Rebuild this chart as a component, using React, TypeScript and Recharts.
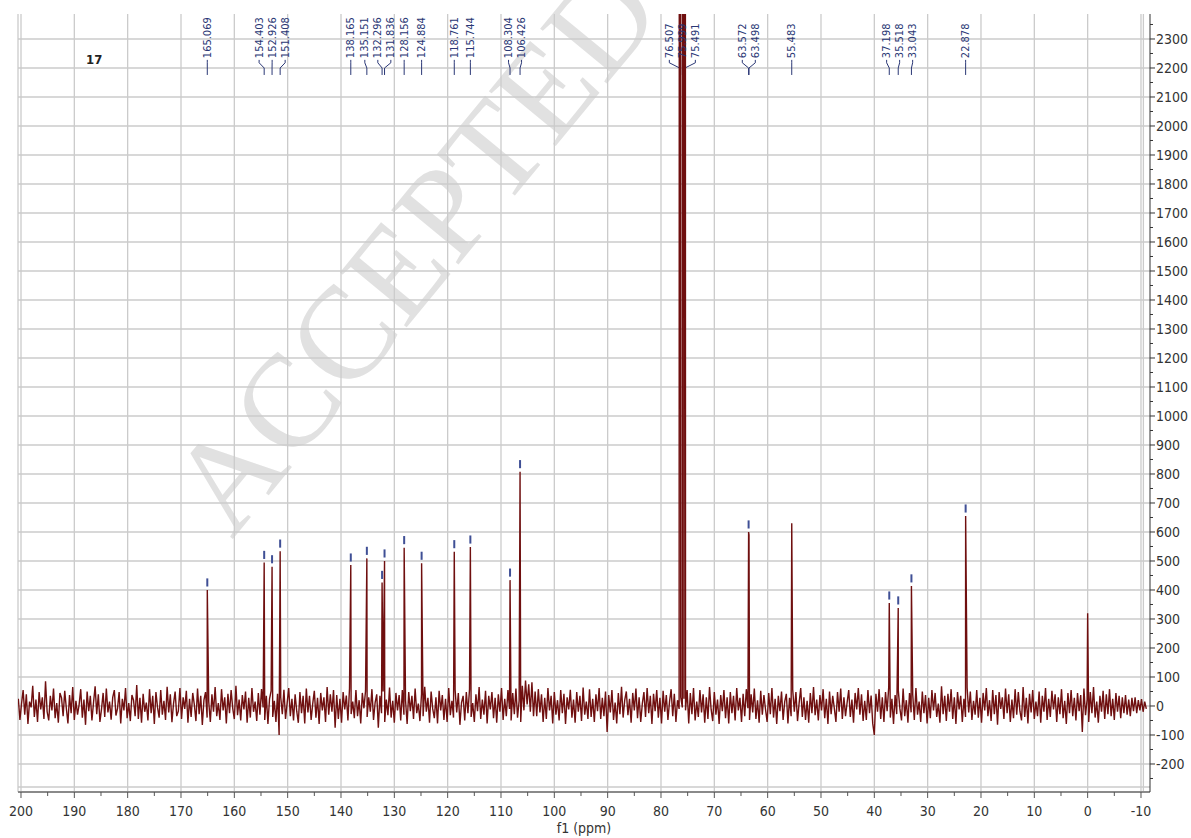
import React from "react"
import { ComposedChart, Line, Scatter, XAxis, YAxis, CartesianGrid, ReferenceLine } from "recharts"

// baseline noise, one value every 0.3 ppm starting at 200.5 ppm
const NOISE_START = 200.5
const NOISE_STEP = 0.3
const noise = [
  25, -48, 8, 55, -30, 40, -62, 15, -5, 70, -38, 22, -55, 48, -12, 30, -45, 85, -20, -50,
  35, -15, 60, -42, 10, -58, 45, 28, -35, 52, -8, -60, 38, -25, 65, -48, 18, -30, 5, 58,
  -40, 22, -65, 50, -18, 35, -50, 12, 68, -28, 40, -55, -10, 45, -38, 60, -22, 15, -47, 30,
  55, -33, -8, 48, -60, 25, -15, 62, -42, 10, -52, 38, 20, -35, 72, -45, 28, -58, 42, -20,
  12, -50, 58, -25, 35, -62, 48, -5, -40, 55, -30, 18, -48, 66, -22, 40, -56, 8, 50, -35,
  -18, 62, -45, 30, -10, 52, -58, 25, -38, 45, 5, -52, 60, -28, 35, -65, 20, 48, -40, 15,
  -55, 40, -20, 65, -35, 10, -48, 58, -15, 30, -60, 42, -25, 55, -8, -45, 70, -32, 22, -50,
  38, -12, 50, -58, 28, -40, 62, -20, 15, -52, 45, -30, 58, -5, -48, 35, -62, 25, 52, -38,
  18, -55, 42, -100, 30, -28, 56, -45, 10, 62, -35, 25, -50, 40, -18, -58, 48, -25, 35, -60,
  60, -22, 35, -48, 8, 52, -40, 28, -62, 45, -15, 30, -55, 65, -30, 40, -20, 55, -75, 38,
  -45, 25, -58, 48, -12, 36, -50, 62, -28, 15, -42, 55, -35, 20, -60, 45, -8, 52, -38, 30,
  -20, 58, -48, 12, 40, -75, 35, -25, 50, -55, 22, -32, 64, -40, 18, -58, 45, -15, 38, -50,
  55, -30, 20, -62, 48, -18, 35, -45, 60, -25, 8, -52, 42, -35, 66, -20, 28, -58, 50, -10,
  -42, 30, -60, 52, -15, 38, -48, 25, -55, 62, -32, 18, -40, 55, -22, 45, -65, 12, 35, -50,
  48, -25, 58, -38, 10, -55, 40, -18, 65, -45, 22, -30, 52, -60, 35, -12, 48, -42, 28, -58,
  40, -20, 62, -48, 25, -35, 55, -10, -50, 45, -28, 60, -40, 18, -55, 70, -15, 88, 5, 75,
  -20, 82, -35, 50, -35, 58, -22, 40, -55, 28, -45, 62, -15, 35, -60, 48, -30, 20, -50, 55,
  -25, 42, -62, 30, -12, 56, -40, 22, -58, 48, -20, 35, -52, 64, -30, 15, -45, 58, -38, 25,
  -55, 40, -18, 62, -45, 28, -35, 50, -90, 38, -22, 55, -48, 12, -60, 45, -28, 66, -40, 20,
  50, -32, 25, -58, 45, -15, 60, -42, 30, -55, 8, 48, -38, 62, -25, 35, -62, 42, -18, 55,
  -40, 28, -60, 52, -20, 38, -48, 15, 58, -35, 42, -55, 20, -10, 30, -5, 25, -15, 55, -60,
  45, -28, 62, -50, 15, -38, 55, -22, 40, -58, 30, -45, 65, -12, -52, 48, -30, 22, -62, 38,
  -18, 55, -42, 30, -60, 48, -25, 35, -50, 62, -15, 28, -55, 42, -35, 58, -8, -48, 40, -22,
  60, -45, 20, -58, 52, -30, 38, -12, -55, 45, -28, 62, -40, 25, -62, 35, -18, 50, -48, 15,
  42, -60, 28, -35, 55, -20, 48, -52, 10, 62, -38, 30, -48, 18, -58, 45, -25, 65, -32, 22,
  -50, 38, -15, 58, -42, 25, -62, 50, -28, 35, -8, -55, 48, -20, 60, -45, 30, -35, 12, 55,
  -38, 22, -58, 45, -12, 62, -30, 40, -52, 18, -48, 55, -25, 36, -60, -100, 42, -20, 58, -45,
  30, -55, 48, -18, 65, -40, 25, -62, 38, -28, 52, -10, -50, 60, -35, 20, -58, 45, -22, 40,
  -48, 62, -30, 15, -55, 50, -25, 38, -60, 28, -42, 55, -15, 45, -38, 8, -58, 68, -28, 35,
  -52, 42, -20, 58, -45, 30, -62, 48, -12, 35, -55, 25, -38, 62, -22, 50, -48, 18, -30, 55,
  -40, 28, -58, 45, -15, 62, -35, 20, -52, 55, -28, 38, -65, 48, -10, 30, -45, 60, -25, 40,
  -55, 22, -42, 58, -30, 48, -18, -50, 65, -38, 28, -60, 42, -22, 55, -45, 15, -35, 50, -58,
  35, -20, 62, -48, 25, -38, 52, -12, 40, -55, 30, -28, 58, -42, 18, -62, 45, -25, 55, -35,
  28, -50, 45, -18, 38, -90, 60, -32, 22, -55, 48, -25, 65, -40, 15, -58, 35, -20, 52, -45,
  40, -28, 58, -35, 25, -48, 45, -20, 35, -42, 30, -25, 38, -30, 22, -35, 28, -18, 30, -25,
  20, -15, 24, -20, 15, -10,
]

// peak positions (ppm) and intensities
const peakPpm = [
  165.069, 154.403, 152.926, 151.408, 138.165, 135.151, 132.296, 131.836, 128.156, 124.884,
  118.761, 115.744, 108.304, 106.426, 76.507, 75.999, 75.491, 63.572, 63.498, 55.483,
  37.198, 35.518, 33.043, 22.878, 0.0,
]
const peakHeight = [
  400, 495, 480, 534, 486, 509, 426, 500, 546, 492,
  532, 548, 434, 808, 9000, 12000, 9000, 600, 590, 630,
  355, 338, 414, 655, 320,
]

// peak pick labels at the top
const labelPpm = [
  165.069, 154.403, 152.926, 151.408, 138.165, 135.151, 132.296, 131.836, 128.156, 124.884,
  118.761, 115.744, 108.304, 106.426, 76.507, 75.999, 75.491, 63.572, 63.498, 55.483,
  37.198, 35.518, 33.043, 22.878,
]
const labelText = [
  "165.069", "154.403", "152.926", "151.408", "138.165", "135.151", "132.296", "131.836", "128.156", "124.884",
  "118.761", "115.744", "108.304", "106.426", "76.507", "75.999", "75.491", "63.572", "63.498", "55.483",
  "37.198", "35.518", "33.043", "22.878",
]

// peaks with the small blue pick marker
const markerPpm = [
  165.069, 154.403, 152.926, 151.408, 138.165, 135.151, 132.296, 131.836, 128.156, 124.884,
  118.761, 115.744, 108.304, 106.426, 63.572, 37.198, 35.518, 33.043, 22.878,
]

const xMajorTicks = [200, 190, 180, 170, 160, 150, 140, 130, 120, 110, 100, 90, 80, 70, 60, 50, 40, 30, 20, 10, 0, -10]
const xMinorTicks = [195, 185, 175, 165, 155, 145, 135, 125, 115, 105, 95, 85, 75, 65, 55, 45, 35, 25, 15, 5, -5]
const yMajorTicks = [
  -200, -100, 0, 100, 200, 300, 400, 500, 600, 700, 800, 900, 1000, 1100, 1200,
  1300, 1400, 1500, 1600, 1700, 1800, 1900, 2000, 2100, 2200, 2300,
]
const yMinorTicks = [
  -250, -150, -50, 50, 150, 250, 350, 450, 550, 650, 750, 850, 950, 1050, 1150,
  1250, 1350, 1450, 1550, 1650, 1750, 1850, 1950, 2050, 2150, 2250, 2350,
]

const X_DOMAIN: [number, number] = [-11.69, 200.5625]
const Y_DOMAIN: [number, number] = [-296.6, 2386.2]
const FRAME_RIGHT = -10.45
const FRAME_BOTTOM = -279.3

const RED = "#6f0f0f"
const NAVY = "#2a3775"
const GRID = "#cbcbcb"
const FONT = "'DejaVu Sans Condensed', 'Noto Sans', 'Liberation Sans', sans-serif"

// label geometry (in data units of the y axis)
const LABEL_Y = 2234
const CONN_TOP = 2228
const CONN_BEND = 2218
const CONN_FOOT = 2200
const CONN_BOTTOM = 2176
const LABEL_GAP = 2.44 // ppm between neighbouring labels

const spectrum = (() => {
  const pts = noise.map((v, i) => ({ x: +(NOISE_START - i * NOISE_STEP).toFixed(2), y: v }))
  peakPpm.forEach((p, i) => pts.push({ x: p, y: peakHeight[i] }))
  return pts.sort((a, b) => b.x - a.x)
})()

// spread labels so they don't overlap, clusters centred on their peaks
function spreadLabels(ppms: number[], gap: number) {
  let groups = ppms.map((p, i) => ({ idx: [i], center: p }))
  let merged = true
  while (merged) {
    merged = false
    for (let k = 0; k < groups.length - 1; k++) {
      const a = groups[k]
      const b = groups[k + 1]
      const aLow = a.center - ((a.idx.length - 1) * gap) / 2
      const bHigh = b.center + ((b.idx.length - 1) * gap) / 2
      if (aLow - bHigh < gap) {
        const idx = [...a.idx, ...b.idx]
        const center = idx.reduce((s, i) => s + ppms[i], 0) / idx.length
        groups.splice(k, 2, { idx, center })
        merged = true
        break
      }
    }
  }
  const out: number[] = []
  groups.forEach((g) => {
    const top = g.center + ((g.idx.length - 1) * gap) / 2
    g.idx.forEach((i, j) => (out[i] = top - j * gap))
  })
  return out
}

const labelPos = spreadLabels(labelPpm, LABEL_GAP)
const labelData = labelPpm.map((p, i) => ({ x: labelPos[i], y: LABEL_Y, text: labelText[i], peak: p }))

const heightAt = (p: number) => peakHeight[peakPpm.indexOf(p)]

const XTick = (props: any) => {
  const { x, y, payload } = props
  const v = payload.value
  const major = v % 10 === 0
  return (
    <g>
      <line x1={x} x2={x} y1={y} y2={y + (major ? 6 : 4)} stroke="#555" strokeWidth={1} />
      {major && (
        <text x={x} y={y + 24} textAnchor="middle" fontSize={14} fill="#333" fontFamily={FONT}>
          {v}
        </text>
      )}
    </g>
  )
}

const YTick = (props: any) => {
  const { x, y, payload } = props
  const v = payload.value
  const major = v % 100 === 0
  return (
    <g>
      <line x1={x} x2={x + (major ? 5 : 3)} y1={y} y2={y} stroke="#333" strokeWidth={1} />
      {major && (
        <text x={x + 6} y={y} dominantBaseline="central" fontSize={14} fill="#333" fontFamily={FONT}>
          {v}
        </text>
      )}
    </g>
  )
}

const PeakText = (props: any) => {
  const { cx, cy, payload } = props
  return (
    <text
      x={cx}
      y={cy}
      transform={`rotate(-90 ${cx} ${cy})`}
      fontSize={11}
      fill={NAVY}
      dominantBaseline="central"
      fontFamily={FONT}
    >
      {payload.text}
    </text>
  )
}

export default function App() {
  return (
    <div style={{ position: "absolute", left: 0, top: 0, width: 1191, height: 838, background: "#fff" }}>
      <svg width={1191} height={838} style={{ position: "absolute", left: 0, top: 0 }}>
        <text
          x={232}
          y={540}
          transform="rotate(-50.6 232 540)"
          fontFamily="'Liberation Serif', serif"
          fontSize={132}
          fill="#e1e1e1"
        >
          ACCEPTED
        </text>
      </svg>
      <div style={{ position: "absolute", left: 86, top: 52, fontFamily: FONT, fontWeight: 700, fontSize: 13, color: "#222" }}>
        17
      </div>
      <ComposedChart
        width={1191}
        height={838}
        margin={{ top: 14, right: 0, bottom: 0, left: 18 }}
        style={{ position: "absolute", left: 0, top: 0 }}
      >
        <CartesianGrid
          stroke={GRID}
          strokeWidth={1.3}
          verticalValues={xMajorTicks}
          horizontalValues={yMajorTicks}
        />
        <XAxis
          type="number"
          dataKey="x"
          domain={X_DOMAIN}
          reversed
          allowDataOverflow
          ticks={[...xMajorTicks, ...xMinorTicks].sort((a, b) => b - a)}
          interval={0}
          tickSize={0}
          tickMargin={0}
          tickLine={false}
          tick={(p: any) => <XTick {...p} />}
          axisLine={{ stroke: "#8a8a8a", strokeWidth: 2 }}
          height={46}
          label={{ value: "f1 (ppm)", position: "insideBottom", offset: 5, fill: "#333", fontSize: 14, fontFamily: FONT }}
        />
        <YAxis
          type="number"
          orientation="right"
          domain={Y_DOMAIN}
          allowDataOverflow
          ticks={[...yMajorTicks, ...yMinorTicks].sort((a, b) => a - b)}
          interval={0}
          tickSize={0}
          tickMargin={0}
          tickLine={false}
          tick={(p: any) => <YTick {...p} />}
          axisLine={{ stroke: "#333" }}
          width={41}
        />
        <ReferenceLine x={FRAME_RIGHT} stroke={GRID} strokeWidth={1.3} />
        <ReferenceLine y={FRAME_BOTTOM} stroke={GRID} strokeWidth={1.3} />
        <ReferenceLine x={X_DOMAIN[1]} stroke={GRID} strokeWidth={1.3} />
        {labelData.map((d, i) => (
          <ReferenceLine
            key={"c" + i}
            stroke={NAVY}
            strokeWidth={1}
            ifOverflow="visible"
            segment={[
              { x: d.x, y: CONN_TOP },
              { x: d.x, y: CONN_BEND },
            ]}
          />
        ))}
        {labelData.map((d, i) => (
          <ReferenceLine
            key={"d" + i}
            stroke={NAVY}
            strokeWidth={1}
            ifOverflow="visible"
            segment={[
              { x: d.x, y: CONN_BEND },
              { x: d.peak, y: CONN_FOOT },
            ]}
          />
        ))}
        {labelData.map((d, i) => (
          <ReferenceLine
            key={"e" + i}
            stroke={NAVY}
            strokeWidth={1}
            ifOverflow="visible"
            segment={[
              { x: d.peak, y: CONN_FOOT },
              { x: d.peak, y: CONN_BOTTOM },
            ]}
          />
        ))}
        {markerPpm.map((p, i) => (
          <ReferenceLine
            key={"m" + i}
            stroke="#3f4f95"
            strokeWidth={2}
            ifOverflow="visible"
            segment={[
              { x: p, y: heightAt(p) + 12 },
              { x: p, y: heightAt(p) + 40 },
            ]}
          />
        ))}
        <Scatter data={labelData} dataKey="y" shape={(p: any) => <PeakText {...p} />} isAnimationActive={false} />
        <Line
          data={spectrum}
          dataKey="y"
          type="linear"
          stroke={RED}
          strokeWidth={1.4}
          dot={false}
          activeDot={false}
          isAnimationActive={false}
        />
      </ComposedChart>
    </div>
  )
}
